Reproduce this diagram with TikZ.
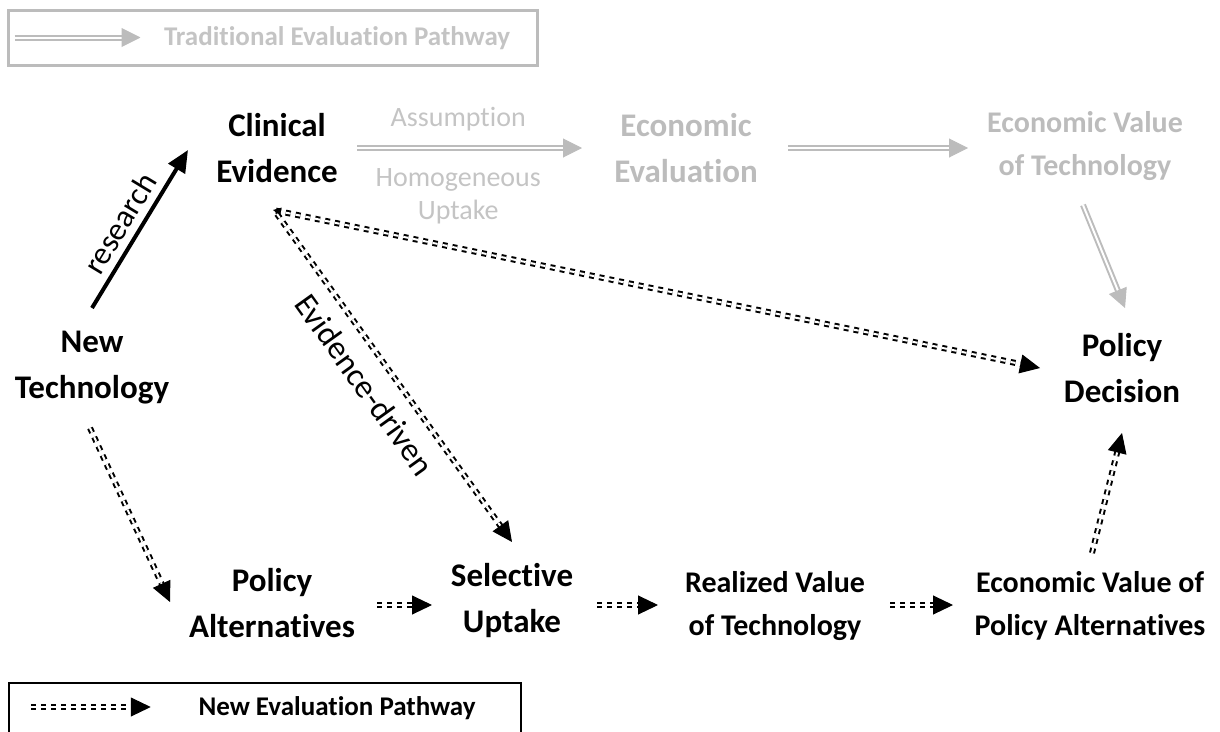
\documentclass[tikz,border=0pt]{standalone}
\usepackage{fontspec}
\setmainfont{Carlito}[Ligatures=NoCommon]
\usetikzlibrary{arrows.meta,calc}
\definecolor{tradgray}{RGB}{188,188,188}
\definecolor{tradtext}{RGB}{196,196,196}

\begin{document}
\begin{tikzpicture}[x=1pt,y=-1pt,
  lbl/.style={font=\bfseries\fontsize{33}{46}\selectfont, align=center, inner sep=0pt},
  lblsm/.style={font=\bfseries\fontsize{30}{43}\selectfont, align=center, inner sep=0pt},
  faded/.style={text=tradgray},
  note/.style={font=\fontsize{28}{33}\selectfont, align=center, inner sep=0pt, text=tradtext},
  keytext/.style={font=\bfseries\fontsize{27}{32}\selectfont, inner sep=0pt},
  % grey double-line arrow of the traditional pathway
  tradarrow/.style={-{Triangle[length=19pt,width=19pt]}, draw=tradgray, line width=1pt,
    dash pattern=on 0pt off 2000pt, line cap=butt,
    preaction={draw=tradgray, arrows=-, solid, line width=6pt, shorten >=17pt},
    preaction={draw=white, arrows=-, solid, line width=2pt, shorten >=17pt}},
  % black dashed double-line arrow of the new pathway
  newarrow/.style={-{Triangle[length=20pt,width=19pt]}, draw=black, line width=1pt,
    dash pattern=on 0pt off 2000pt, line cap=butt,
    preaction={draw=black, arrows=-, line width=6pt, dash pattern=on 5pt off 5pt, shorten >=17pt, shorten <=#1},
    preaction={draw=white, arrows=-, line width=2pt, dash pattern=on 5pt off 5pt, shorten >=17pt, shorten <=#1}},
  newarrow/.default=0pt
]
\useasboundingbox (0,0) rectangle (1220,731);

% nodes
\node[lbl] (ce) at (277,148) {Clinical\\Evidence};
\node[lbl, faded] (ee) at (686,148) {Economic\\Evaluation};
\node[lblsm, faded] (evt) at (1085,146) {Economic Value\\of Technology};
\node[lbl] (nt) at (92,368) {New\\Technology};
\node[lbl] (pd) at (1122,368) {Policy\\Decision};
\node[lbl] (pa) at (272,603) {Policy\\Alternatives};
\node[lbl] (su) at (512,601) {Selective\\Uptake};
\node[lblsm] (rv) at (775,606) {Realized Value\\of Technology};
\node[lblsm] (ev) at (1090,606) {Economic Value of\\Policy Alternatives};

% traditional pathway
\draw[tradarrow] ($(ce)+(80,0)$) -- ($(ee)+(-104,0)$)
  node[note, pos=0.45, above=16pt] (asm) {Assumption}
  node[note, pos=0.45, below=20pt] (hom) {Homogeneous\\Uptake};
\draw[tradarrow] ($(ee)+(102,0)$) -- ($(evt)+(-117,2)$);
\draw[tradarrow] ($(evt)+(-2,59)$) -- ($(pd)+(3,-60)$);

% research
\draw[-{Triangle[length=22pt,width=19pt]}, line width=4pt] ($(nt)+(0,-60)$) -- ($(ce)+(-89,2)$)
  node[pos=0.47, sloped, above=7pt, inner sep=0pt, font=\fontsize{32}{36}\selectfont] (res) {research};

% new pathway
\draw[newarrow=3pt, {Triangle[length=8pt,width=8pt]}-{Triangle[length=20pt,width=19pt]}]
  ($(ce)+(-4,62)$) -- ($(pd)+(-82,0)$);
\draw[newarrow] ($(ce)+(0,66)$) -- ($(su)+(0,-59)$)
  node[pos=0.47, sloped, below=16pt, inner sep=0pt, font=\fontsize{33}{36}\selectfont] (evd) {Evidence-driven};
\draw[newarrow] ($(nt)+(-2,60)$) -- ($(pa)+(-102,-1)$);
\draw[newarrow] ($(pa)+(105,2)$) -- ($(su)+(-80,4)$);
\draw[newarrow] ($(su)+(85,4)$) -- ($(rv)+(-117,-1)$);
\draw[newarrow] ($(rv)+(115,-1)$) -- ($(ev)+(-137,-1)$);
\draw[newarrow] ($(ev)+(2,-53)$) -- ($(pd)+(0,65)$);

% keys
\node[draw=tradgray, line width=3pt, minimum width=529pt, minimum height=55pt, inner sep=0pt] (tradkey) at (272.5,37.5) {};
\node[keytext, text=tradtext] (tradlbl) at (337,38) {Traditional Evaluation Pathway};
\draw[tradarrow] ($(tradkey.west)+(8,0)$) -- ($(tradkey.west)+(134,0)$);

\node[draw=black, line width=2.5pt, minimum width=512pt, minimum height=62pt, inner sep=0pt] (newkey) at (265,714) {};
\node[keytext] (newlbl) at (337,708) {New Evaluation Pathway};
\draw[newarrow] ($(newkey.west)+(23,-7)$) -- ($(newkey.west)+(143,-7)$);
\end{tikzpicture}
\end{document}
